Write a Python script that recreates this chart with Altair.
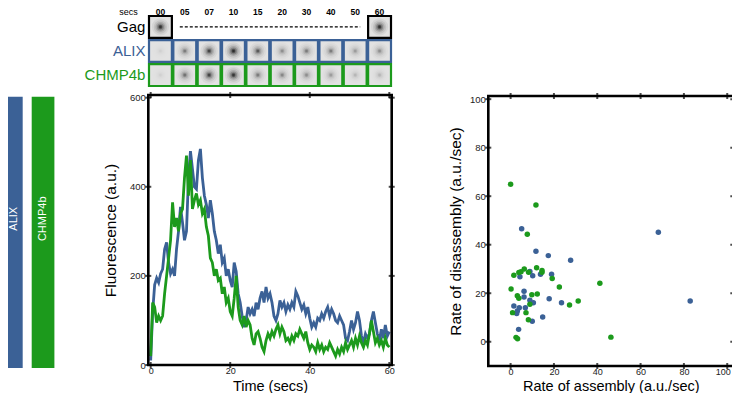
import altair as alt
import pandas as pd

FONT = "Liberation Sans"
BLUE = "#3b6196"
GREEN = "#1c9a1c"

# ---------------- data ----------------
# fluorescence traces, sampled every 0.5 s from 0 to 60 s
trace_step = 0.5
alix_trace = [
    10, 120, 180, 195, 185, 205, 215, 260, 275, 230,
    205, 215, 200, 260, 300, 355, 320, 280, 300, 420,
    480, 440, 400, 395, 460, 485, 420, 380, 360, 330,
    370, 340, 300, 280, 250, 270, 230, 240, 200, 215,
    190, 175, 230, 210, 160, 140, 110, 85, 100, 130,
    115, 125, 110, 140, 125, 150, 165, 140, 175, 150,
    160, 140, 110, 100, 115, 145, 130, 140, 120, 135,
    125, 140, 130, 165, 155, 140, 125, 135, 115, 130,
    105, 85, 95, 85, 105, 100, 115, 105, 120, 130,
    110, 125, 115, 100, 95, 110, 100, 90, 60, 55,
    75, 100, 80, 95, 120, 100, 65, 50, 70, 60,
    70, 100, 120, 95, 70, 55, 80, 60, 90, 65,
    75,
]
chmp_trace = [
    20, 140, 130, 95, 110, 100, 110, 160, 200, 240,
    280, 365, 310, 330, 300, 340, 350, 420, 470, 380,
    460, 350, 370, 385, 360, 370, 340, 350, 310, 290,
    240, 230, 200, 215, 190, 195, 160, 175, 140, 150,
    120, 110, 150, 200, 130, 100, 90, 110, 85, 100,
    90, 60, 45, 70, 75, 60, 40, 30, 55, 70,
    60, 75, 65, 80, 90, 70, 85, 75, 55, 60,
    50, 65, 55, 70, 65, 80, 70, 60, 75, 50,
    35, 45, 40, 30, 50, 35, 45, 30, 40, 35,
    50, 40, 30, 20, 35, 25, 40, 30, 50, 35,
    45, 55, 40, 60, 45, 65, 50, 40, 55, 45,
    70, 100, 75, 50, 60, 45, 55, 40, 60, 45,
    40,
]

# rate scatter
alix_assembly = [5.1, 11.7, 17.4, 27.7, 68.2, 82.9, 4.3, 8.9, 10.2, 13.8, 18.9, 6.2, 6.2,
                 8.9, 10.5, 17.8, 23.5, 1.5, 4.0, 6.8, 3.1, 2.8, 10.0, 14.8, 3.7]
alix_disassembly = [46.6, 37.3, 35.5, 33.6, 45.1, 16.8, 26.8, 29.0, 27.2, 27.8, 27.8, 20.8, 18.4,
                    17.1, 16.1, 17.7, 16.1, 14.7, 14.0, 14.0, 12.7, 11.6, 8.4, 10.2, 5.1]
chmp_assembly = [0.0, 11.7, 7.7, 1.5, 3.8, 4.8, 6.3, 8.3, 12.0, 14.5, 14.5, 19.2, 22.5, 41.2,
                 0.2, 3.1, 3.8, 9.8, 12.3, 8.9, 0.9, 7.1, 8.2, 27.2, 31.2, 2.5, 3.2, 46.3]
chmp_disassembly = [64.9, 56.4, 44.3, 27.4, 28.5, 28.9, 30.0, 28.6, 30.5, 28.6, 29.4, 26.1, 22.6, 24.1,
                    21.7, 19.0, 17.9, 19.4, 19.7, 15.5, 12.0, 12.0, 9.1, 15.1, 16.8, 1.8, 1.2, 1.9]

# image strip
strip_times = ["00", "05", "07", "10", "15", "20", "30", "40", "50", "60"]
strip_rows = ["Gag", "ALIX", "CHMP4b"]
gag_times = ["00", "60"]
gag_spot = [0.9, 0.9]
alix_spot = [0.05, 0.4, 0.75, 0.95, 0.6, 0.3, 0.4, 0.4, 0.25, 0.3]
chmp_spot = [0.05, 0.45, 0.75, 0.85, 0.4, 0.35, 0.3, 0.25, 0.15, 0.15]

side_labels = ["ALIX", "CHMP4b"]

line_x_ticks = [0, 20, 40, 60]
line_y_ticks = [0, 200, 400, 600]
scatter_ticks = [0, 20, 40, 60, 80, 100]

row_colors = {"Gag": "black", "ALIX": BLUE, "CHMP4b": GREEN}
prot_colors = {"ALIX": BLUE, "CHMP4b": GREEN}

# ---------------- side bars ----------------
bars_df = pd.DataFrame({"name": side_labels, "c": [prot_colors[s] for s in side_labels],
                        "y0": [0, 0], "y1": [1, 1], "yt": [0.55, 0.55]})
bx = alt.Scale(domain=side_labels, range=[-8, 46.4], paddingInner=0.284, paddingOuter=0)
by = alt.Scale(domain=[0, 1], range=[360, 88.7], nice=False, zero=False)
bars = alt.Chart(bars_df).mark_rect().encode(
    x=alt.X("name:N", scale=bx, axis=None),
    y=alt.Y("y0:Q", scale=by, axis=None), y2="y1:Q",
    color=alt.Color("c:N", scale=None),
)


def bar_label(name, shift):
    return alt.Chart(bars_df).transform_filter(alt.datum.name == name).mark_text(
        angle=270, color="white", fontSize=11, font=FONT, baseline="middle", align="center",
        dy=shift).encode(
        x=alt.X("name:N", scale=bx, axis=None),
        y=alt.Y("yt:Q", scale=by, axis=None),
        text="name:N",
    )


bars_group = alt.layer(bars, bar_label("ALIX", 3), bar_label("CHMP4b", 0))

# ---------------- image strip ----------------
thumb_rows = []
for t, s in zip(gag_times, gag_spot):
    thumb_rows.append({"time": t, "row": "Gag", "spot": s, "c": row_colors["Gag"]})
for t, s in zip(strip_times, alix_spot):
    thumb_rows.append({"time": t, "row": "ALIX", "spot": s, "c": row_colors["ALIX"]})
for t, s in zip(strip_times, chmp_spot):
    thumb_rows.append({"time": t, "row": "CHMP4b", "spot": s, "c": row_colors["CHMP4b"]})
thumbs = pd.DataFrame(thumb_rows)

sx = alt.Scale(domain=strip_times, range=[141, 383], paddingInner=0.06, paddingOuter=0)
sy = alt.Scale(domain=strip_rows, range=[8, 78], paddingInner=0.09, paddingOuter=0)

boxes = alt.Chart(thumbs).mark_rect(fill="#e2e2e2", strokeWidth=2.2).encode(
    x=alt.X("time:N", scale=sx, axis=None),
    y=alt.Y("row:N", scale=sy, axis=None),
    stroke=alt.Stroke("c:N", scale=None),
)


def spot_layer(size, k):
    return alt.Chart(thumbs).transform_calculate(op=f"datum.spot * {k}").mark_circle(
        size=size, color="black").encode(
        x=alt.X("time:N", scale=sx, axis=None),
        y=alt.Y("row:N", scale=sy, axis=None),
        opacity=alt.Opacity("op:Q", scale=None),
    )


spots = [spot_layer(300, 0.06), spot_layer(180, 0.09), spot_layer(100, 0.14),
         spot_layer(50, 0.22), spot_layer(20, 0.35), spot_layer(7, 0.5)]

dash = alt.Chart(pd.DataFrame({"a": ["05"], "b": ["50"], "row": ["Gag"]})).mark_rule(
    strokeDash=[3, 2], strokeWidth=1.2, color="black", xOffset=-5, x2Offset=5).encode(
    x=alt.X("a:N", scale=sx, axis=None), x2="b:N",
    y=alt.Y("row:N", scale=sy, axis=None),
)
header = alt.Chart(pd.DataFrame({"time": strip_times, "row": ["Gag"] * len(strip_times)})).mark_text(
    fontSize=8.5, fontWeight="bold", font=FONT, dy=-15, baseline="middle").encode(
    x=alt.X("time:N", scale=sx, axis=None),
    y=alt.Y("row:N", scale=sy, axis=None),
    text="time:N",
)
secs = alt.Chart(pd.DataFrame({"time": ["00"], "row": ["Gag"], "lab": ["secs"]})).mark_text(
    fontSize=9, font=FONT, dy=-15, dx=-32, baseline="middle").encode(
    x=alt.X("time:N", scale=sx, axis=None),
    y=alt.Y("row:N", scale=sy, axis=None),
    text="lab:N",
)
row_lab_df = pd.DataFrame({"time": ["00"] * 3, "row": strip_rows, "c": [row_colors[r] for r in strip_rows]})
row_labels = alt.Chart(row_lab_df).mark_text(fontSize=15, font=FONT, align="right", dx=-15,
                                             baseline="middle").encode(
    x=alt.X("time:N", scale=sx, axis=None),
    y=alt.Y("row:N", scale=sy, axis=None),
    text="row:N",
    color=alt.Color("c:N", scale=None),
)
strip_group = alt.layer(boxes, *spots, dash, header, secs, row_labels)

# ---------------- fluorescence traces ----------------
n = len(alix_trace)
tt = [i * trace_step for i in range(n)]
trace_df = pd.DataFrame({"t": tt + tt, "v": alix_trace + chmp_trace,
                         "protein": ["ALIX"] * n + ["CHMP4b"] * len(chmp_trace)})
LX0, LX1, LY0, LY1 = -0.6, 60.6, 0, 606
lx = alt.Scale(domain=[LX0, LX1], range=[140.3, 383.7], nice=False, zero=False)
ly = alt.Scale(domain=[LY0, LY1], range=[357, 87], nice=False, zero=False)
lx_axis = alt.Axis(orient="bottom", offset=-28, values=line_x_ticks, format="d", domain=False,
                   ticks=False, grid=False, labelFontSize=9, labelPadding=1, labelFlush=False,
                   labelColor="#222", title="Time (secs)", titleFontSize=14.5,
                   titleFontWeight="normal", titleBaseline="alphabetic", titleY=25.5,
                   titleColor="black")
ly_axis = alt.Axis(orient="left", offset=-140.3, values=line_y_ticks, format="d", domain=False,
                   ticks=False, grid=False, labelFontSize=9.5, labelPadding=3, labelFlush=False,
                   labelColor="#222", title="Fluorescence (a.u.)", titleFontSize=15.5,
                   titleFontWeight="normal", titlePadding=11, titleColor="black")

lines = alt.Chart(trace_df).mark_line(strokeWidth=2.8).encode(
    x=alt.X("t:Q", scale=lx, axis=lx_axis),
    y=alt.Y("v:Q", scale=ly, axis=ly_axis),
    color=alt.Color("protein:N", scale=alt.Scale(domain=side_labels, range=[BLUE, GREEN]), legend=None),
)
lframe = alt.Chart(pd.DataFrame({"x0": [LX0], "x1": [LX1], "y0": [LY0], "y1": [LY1]})).mark_rect(
    fill="transparent", stroke="black", strokeWidth=2.6).encode(
    x=alt.X("x0:Q", scale=lx, axis=lx_axis), x2="x1:Q",
    y=alt.Y("y0:Q", scale=ly, axis=ly_axis), y2="y1:Q",
)
lt_x = pd.DataFrame({"x": line_x_ticks * 2, "y": [LY0] * 4 + [LY1] * 4})
lt_y = pd.DataFrame({"x": [LX0] * 4 + [LX1] * 4, "y": line_y_ticks * 2})
lticks_x = alt.Chart(lt_x).mark_tick(orient="vertical", size=6, thickness=2, color="black").encode(
    x=alt.X("x:Q", scale=lx, axis=lx_axis), y=alt.Y("y:Q", scale=ly, axis=ly_axis))
lticks_y = alt.Chart(lt_y).mark_tick(orient="horizontal", size=6, thickness=2, color="black").encode(
    x=alt.X("x:Q", scale=lx, axis=lx_axis), y=alt.Y("y:Q", scale=ly, axis=ly_axis))
line_group = alt.layer(lines, lframe, lticks_x, lticks_y)

# ---------------- scatter ----------------
sc_df = pd.DataFrame({
    "a": alix_assembly + chmp_assembly,
    "d": alix_disassembly + chmp_disassembly,
    "protein": ["ALIX"] * len(alix_assembly) + ["CHMP4b"] * len(chmp_assembly),
})
SX0, SX1, SY0, SY1 = -10.3, 102.8, -10, 101.3
px = alt.Scale(domain=[SX0, SX1], range=[480.3, 725.3], nice=False, zero=False)
py = alt.Scale(domain=[SY0, SY1], range=[358, 88], nice=False, zero=False)
px_axis = alt.Axis(orient="bottom", offset=-27, values=scatter_ticks, format="d", domain=False,
                   ticks=False, grid=False, labelFontSize=9, labelPadding=1, labelFlush=7,
                   labelFlushOffset=3, labelColor="#222", title="Rate of assembly (a.u./sec)",
                   titleFontSize=14.5, titleFontWeight="normal", titleBaseline="alphabetic",
                   titleY=24.5, titleColor="black")
py_axis = alt.Axis(orient="left", offset=-480.3, values=scatter_ticks, format="d", domain=False,
                   ticks=False, grid=False, labelFontSize=9.5, labelPadding=3, labelFlush=False,
                   labelColor="#222", title="Rate of disassembly (a.u./sec)", titleFontSize=15.5,
                   titleFontWeight="normal", titlePadding=6, titleColor="black")
points = alt.Chart(sc_df).mark_circle(size=30, opacity=1).encode(
    x=alt.X("a:Q", scale=px, axis=px_axis),
    y=alt.Y("d:Q", scale=py, axis=py_axis),
    color=alt.Color("protein:N", scale=alt.Scale(domain=side_labels, range=[BLUE, GREEN]), legend=None),
)
sframe = alt.Chart(pd.DataFrame({"x0": [SX0], "x1": [SX1], "y0": [SY0], "y1": [SY1]})).mark_rect(
    fill="transparent", stroke="black", strokeWidth=2.6).encode(
    x=alt.X("x0:Q", scale=px, axis=px_axis), x2="x1:Q",
    y=alt.Y("y0:Q", scale=py, axis=py_axis), y2="y1:Q",
)
k = len(scatter_ticks)
st_x = pd.DataFrame({"x": scatter_ticks * 2, "y": [SY0] * k + [SY1] * k})
st_y = pd.DataFrame({"x": [SX0] * k + [SX1] * k, "y": scatter_ticks * 2})
sticks_x = alt.Chart(st_x).mark_tick(orient="vertical", size=6, thickness=2, color="black").encode(
    x=alt.X("x:Q", scale=px, axis=px_axis), y=alt.Y("y:Q", scale=py, axis=py_axis))
sticks_y = alt.Chart(st_y).mark_tick(orient="horizontal", size=6, thickness=2, color="black").encode(
    x=alt.X("x:Q", scale=px, axis=px_axis), y=alt.Y("y:Q", scale=py, axis=py_axis))
scatter_group = alt.layer(points, sframe, sticks_x, sticks_y)

# ---------------- compose ----------------
chart = alt.layer(bars_group, strip_group, line_group, scatter_group).resolve_scale(
    x="independent", y="independent", color="independent", stroke="independent", opacity="independent"
).properties(
    width=724, height=385, autosize=alt.AutoSizeParams(type="none"), padding=0
).configure(font=FONT).configure_view(strokeOpacity=0, stroke="transparent")

chart.save("out.html", embed_options={"renderer": "svg", "actions": False})
